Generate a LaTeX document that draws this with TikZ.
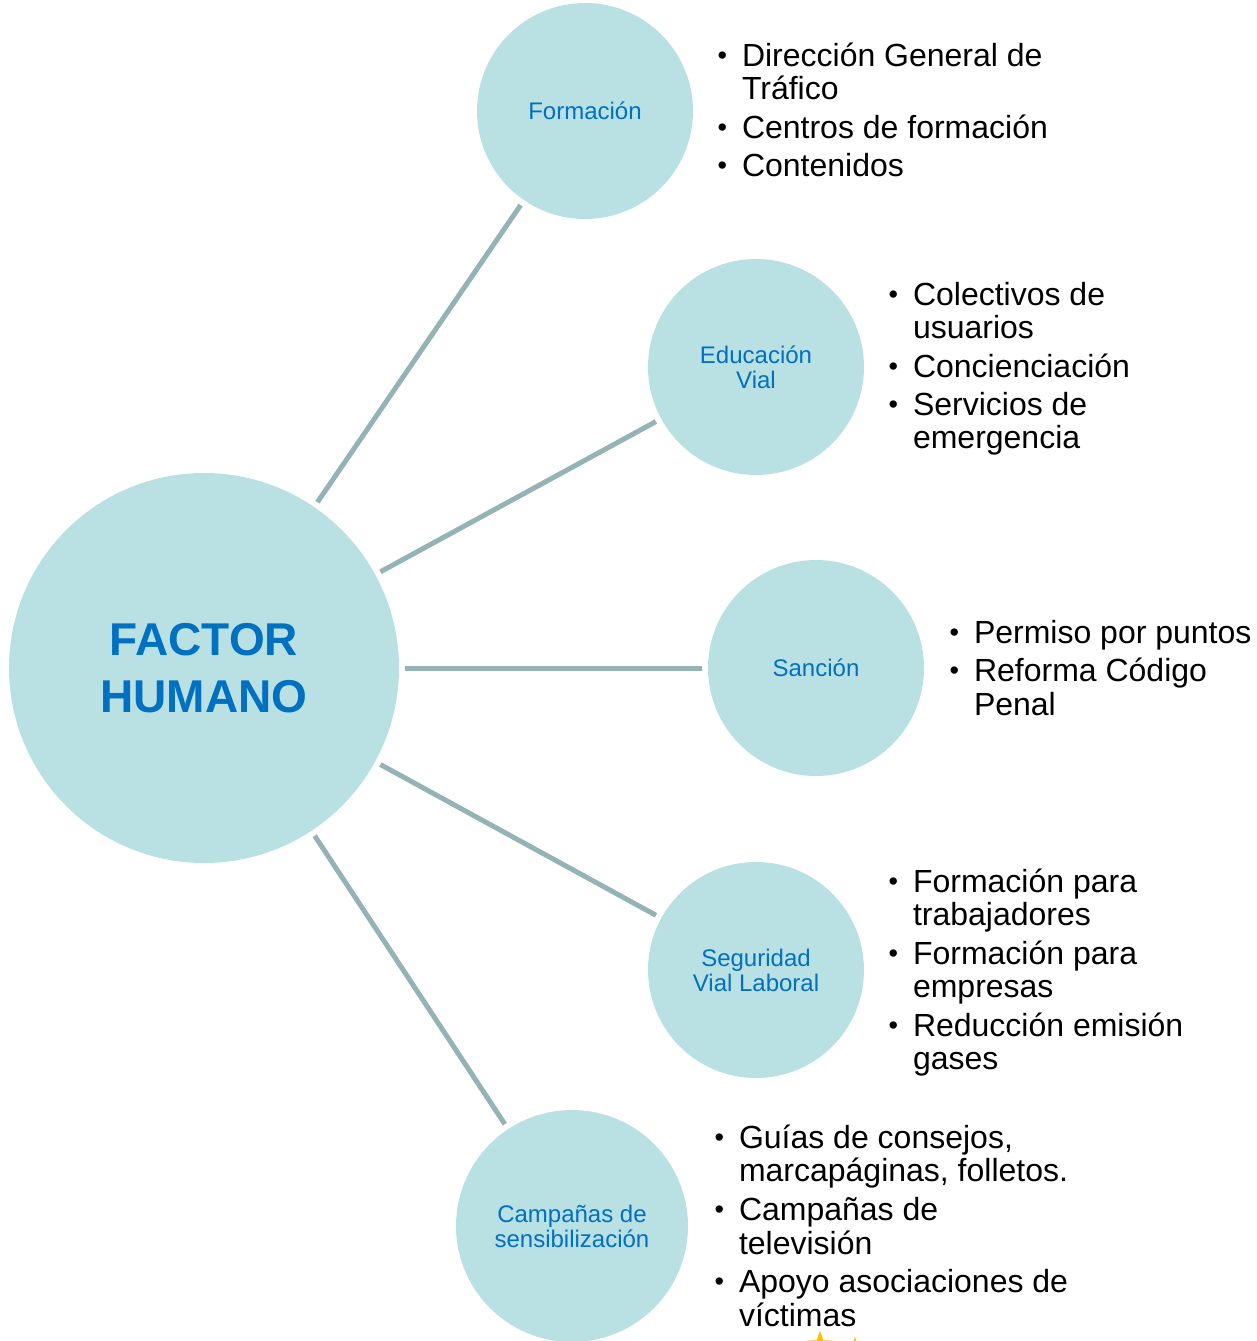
\documentclass[tikz,border=0pt]{standalone}
\usepackage{fontspec}
\setmainfont{Liberation Sans}
\usetikzlibrary{shapes.geometric}
\definecolor{circfill}{HTML}{B9E0E3}
\definecolor{labblue}{HTML}{0070C0}
\definecolor{linkcol}{HTML}{95B3B7}
\definecolor{staryel}{HTML}{FFC000}
\newcommand{\listfont}{\fontsize{32pt}{33pt}\selectfont}
\newcommand{\bl}{\makebox[26pt][l]{\hspace{1.5pt}\raisebox{2pt}{\fontsize{27pt}{27pt}\selectfont •}}}
\tikzset{
  x=1pt, y=-1pt,
  bigcirc/.style={circle, fill=circfill, draw=none, inner sep=0pt, outer sep=0pt, minimum size=390pt,
    text=labblue, font=\fontsize{46pt}{57pt}\selectfont\bfseries, align=center},
  subcirc/.style={circle, fill=circfill, draw=none, inner sep=0pt, outer sep=0pt, minimum size=216pt,
    text=labblue, font=\fontsize{24pt}{25pt}\selectfont, align=center},
  link/.style={draw=linkcol, line width=5pt, shorten >=6pt, shorten <=6pt},
  blist/.style={anchor=base west, inner sep=0pt, outer sep=0pt, font=\listfont, text=black},
  decostar/.style={star, star points=5, star point ratio=2.4, fill=staryel, draw=none, inner sep=0pt}
}
\begin{document}
\begin{tikzpicture}
\useasboundingbox (0,0) rectangle (1256,1341);
\clip (0,0) rectangle (1256,1341);

\node[bigcirc] (main) at (204,668) {FACTOR\\HUMANO};
\node[subcirc] (form) at (585,111) {Formación};
\node[subcirc] (edu) at (756,367) {Educación\\Vial};
\node[subcirc] (san) at (816,668) {Sanción};
\node[subcirc] (seg) at (756,970) {Seguridad\\Vial Laboral};
\node[subcirc, minimum size=232pt] (camp) at (572,1226) {Campañas de\\sensibilización};

\draw[link] (main) -- (form);
\draw[link] (main) -- (edu);
\draw[link] (main) -- (san);
\draw[link] (main) -- (seg);
\draw[link] (main) -- (camp);

\node[blist] (lform) at (716,66.5) {\begin{tabular}[t]{@{}l@{}}
\bl Dirección General de\\
\hspace*{26pt}Tráfico\\[5pt]
\bl Centros de formación\\[5pt]
\bl Contenidos
\end{tabular}};

\node[blist] (ledu) at (887,305.5) {\begin{tabular}[t]{@{}l@{}}
\bl Colectivos de\\
\hspace*{26pt}usuarios\\[5pt]
\bl Concienciación\\[5pt]
\bl Servicios de\\
\hspace*{26pt}emergencia
\end{tabular}};

\node[blist] (lsan) at (948,643.5) {\begin{tabular}[t]{@{}l@{}}
\bl Permiso por puntos\\[5pt]
\bl Reforma Código\\
\hspace*{26pt}Penal
\end{tabular}};

\node[blist] (lseg) at (887,892.5) {\begin{tabular}[t]{@{}l@{}}
\bl Formación para\\
\hspace*{26pt}trabajadores\\[5.5pt]
\bl Formación para\\
\hspace*{26pt}empresas\\[5.5pt]
\bl Reducción emisión\\
\hspace*{26pt}gases
\end{tabular}};

\node[blist] (lcamp) at (713,1148.5) {\begin{tabular}[t]{@{}l@{}}
\bl Guías de consejos,\\
\hspace*{26pt}marcapáginas, folletos.\\[5.5pt]
\bl Campañas de\\
\hspace*{26pt}televisión\\[5.5pt]
\bl Apoyo asociaciones de\\
\hspace*{26pt}víctimas
\end{tabular}};

\node[decostar, minimum size=28pt] (star1) at (820,1345) {};
\node[decostar, minimum size=22pt] (star2) at (855,1348) {};
\end{tikzpicture}
\end{document}
